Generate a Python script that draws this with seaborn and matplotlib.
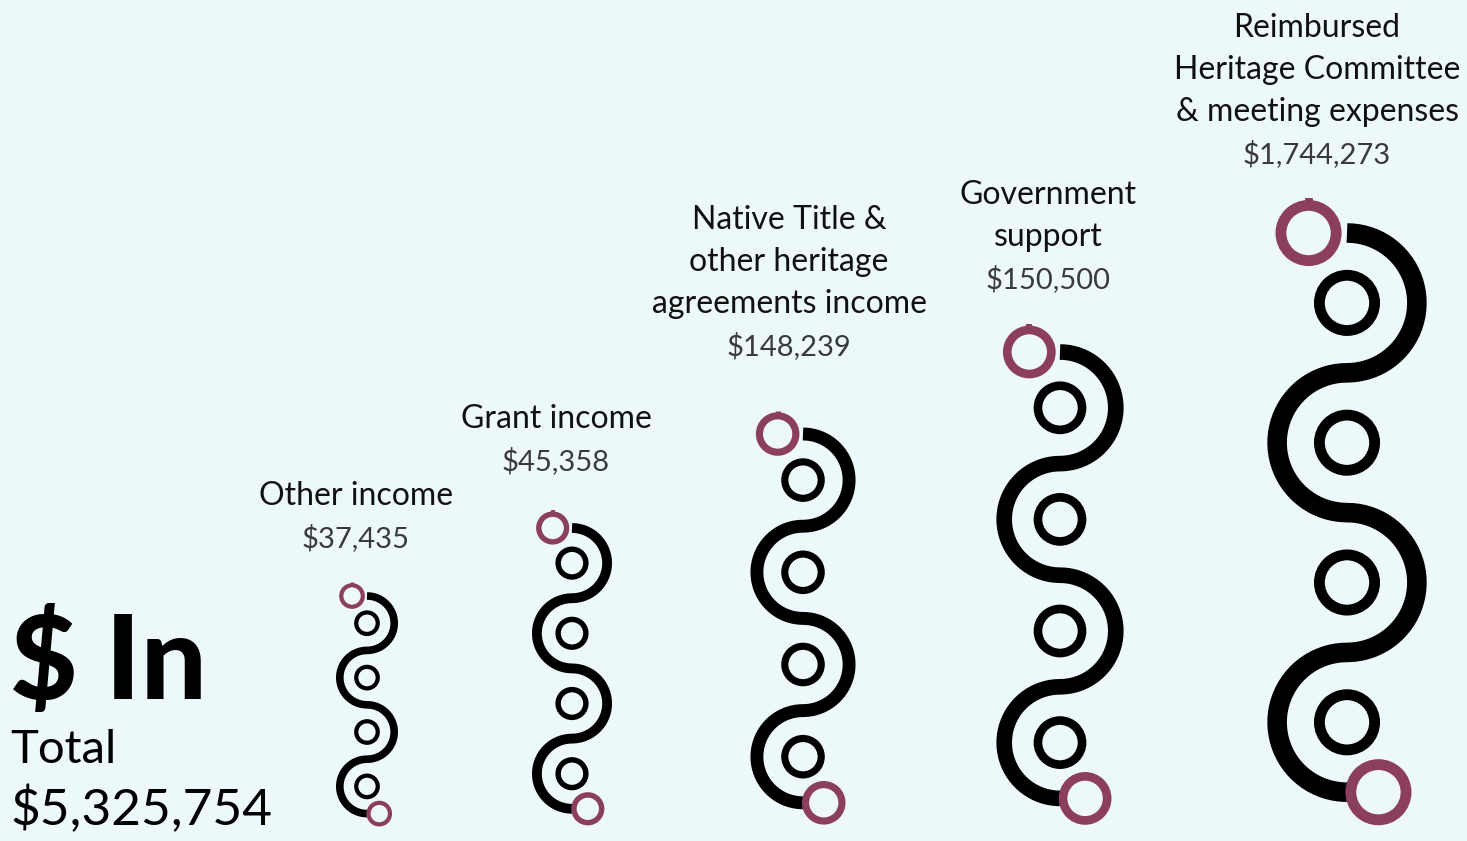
import numpy as np
import pandas as pd
import matplotlib
matplotlib.use("Agg")
import matplotlib.pyplot as plt
from matplotlib.patches import Circle
import seaborn as sns

# ── Data ─────────────────────────────────────────────────────────────────────
categories = [
    "Other income",
    "Grant income",
    "Native Title &\nother heritage\nagreements income",
    "Government\nsupport",
    "Reimbursed\nHeritage Committee\n& meeting expenses",
]
values = [37435, 45358, 148239, 150500, 1744273]
total_in = 5325754

# ── Layout (pixel coordinates, y pointing down) ──────────────────────────────
loop_x   = [367, 572, 803, 1060, 1347]      # centre line of each serpentine
loop_top = [596, 528, 434, 352, 233]        # y where the path starts
loop_r   = [27.2, 35.1, 46.1, 55.8, 69.9]   # radius of each half-turn
label_x  = [356, 556, 789, 1048, 1317]
value_y  = [538, 461, 346, 279, 154]
line_gap = 42

BG      = "#edf8fa"
INK     = "#000000"
CRIMSON = "#8b3f5c"
PX      = 0.72          # points per pixel at dpi=100

sns.set_theme(style="white", rc={"axes.facecolor": BG, "figure.facecolor": BG})
plt.rcParams["font.family"] = ["Lato", "DejaVu Sans"]

fig = plt.figure(figsize=(14.67, 8.41), dpi=100)
ax = fig.add_axes([0, 0, 1, 1])
ax.set_xlim(0, 1467)
ax.set_ylim(841, 0)
ax.axis("off")


def ring(x, y, rad, lw, color):
    ax.add_patch(Circle((x, y), rad, fill=False, edgecolor=color,
                        linewidth=lw * PX, zorder=3))


rows = []
for i, (cx, top, r) in enumerate(zip(loop_x, loop_top, loop_r)):
    t = np.linspace(0, np.pi, 80)
    for k in range(4):
        yc = top + r * (2 * k + 1)
        side = 1 if k % 2 == 0 else -1
        xs = cx + side * r * np.sin(t)
        ys = yc - r * np.cos(t)
        rows += [dict(shape=i, order=k * 100 + j, x=a, y=b)
                 for j, (a, b) in enumerate(zip(xs, ys))]

paths = pd.DataFrame(rows)

for i, (cx, top, r) in enumerate(zip(loop_x, loop_top, loop_r)):
    d = paths[paths["shape"] == i]
    sns.lineplot(data=d, x="x", y="y", sort=False, estimator=None, ax=ax,
                 color=INK, linewidth=0.28 * r * PX, solid_capstyle="butt",
                 solid_joinstyle="round", zorder=2)
    ring_r, ring_lw = 0.395 * r, 0.155 * r
    for k in range(4):
        ring(cx, top + r * (2 * k + 1), ring_r, ring_lw, INK)
    sx = cx - 0.55 * r
    ring(sx, top, ring_r, ring_lw, CRIMSON)
    ring(cx + 0.45 * r, top + 8 * r, ring_r, ring_lw, CRIMSON)
    # little nub on top of the start ring
    nub_y = top - ring_r - ring_lw / 2
    ax.plot([sx, sx], [nub_y + 1, nub_y - 0.035 * r], color=CRIMSON,
            linewidth=0.11 * r * PX, solid_capstyle="butt", zorder=3)

# ── Labels ───────────────────────────────────────────────────────────────────
for cat, val, lx, vy in zip(categories, values, label_x, value_y):
    ax.text(lx, vy, f"${val:,}", ha="center", va="center", fontsize=21,
            fontweight="normal", color="#3a3a3a")
    lines = cat.split("\n")
    for n, line in enumerate(reversed(lines)):
        ax.text(lx, vy - line_gap * (n + 1), line, ha="center", va="center",
                fontsize=23, color="#111111")

ax.text(10, 664, "$ In", ha="left", va="center", fontsize=84,
        fontweight="black", color=INK)
ax.text(10, 750, "Total", ha="left", va="center", fontsize=34, color=INK)
ax.text(10, 810, f"${total_in:,}", ha="left", va="center", fontsize=37,
        color=INK)

fig.savefig("out.png", dpi=100, facecolor=BG)
